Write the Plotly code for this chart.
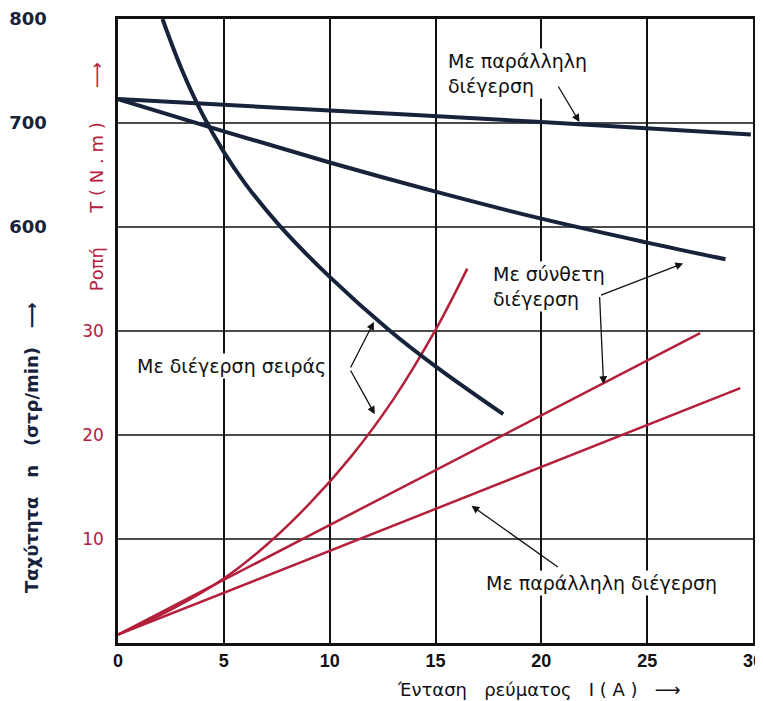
import plotly.graph_objects as go

BLUE = "#17223b"
RED = "#b3203c"
FONT = "DejaVu Sans"

# speed curves, n (rpm) vs current I (A)
i_speed_series = [2.1, 3.0, 4.0, 5.0, 6.0, 7.6, 10.0, 12.8, 15.0, 18.2]
n_series = [800, 752, 708, 672, 642, 602, 552, 501, 466, 420]
i_speed_compound = [0, 5, 10, 15, 20, 25, 28.7]
n_compound = [723, 692, 662, 634, 608, 585, 569]
i_speed_shunt = [0, 10, 20, 29.9]
n_shunt = [723, 712, 701, 689]

# torque curves, T (N.m) vs current I (A)
i_torque_series = [0, 2.5, 5, 7, 9, 11, 13, 15, 16.5]
t_series = [0.8, 3.2, 6.2, 9.4, 13.3, 17.9, 23.4, 30.1, 36.0]
i_torque_compound = [0, 27.5]
t_compound = [0.8, 29.8]
i_torque_shunt = [0, 29.4]
t_shunt = [0.8, 24.5]

x_ticks = [0, 5, 10, 15, 20, 25, 30]
torque_ticks = [10, 20, 30]
speed_ticks = [600, 700, 800]

fig = go.Figure()

for xs, ys in [(i_torque_series, t_series), (i_torque_compound, t_compound),
               (i_torque_shunt, t_shunt)]:
    fig.add_trace(go.Scatter(x=xs, y=ys, mode="lines", yaxis="y",
                             line=dict(color=RED, width=2.5, shape="spline")))

for xs, ys in [(i_speed_series, n_series), (i_speed_compound, n_compound),
               (i_speed_shunt, n_shunt)]:
    fig.add_trace(go.Scatter(x=xs, y=ys, mode="lines", yaxis="y2",
                             line=dict(color=BLUE, width=4, shape="spline")))

# text labels (data coords in current / torque units)
labels = [
    ("Με παράλληλη<br>διέγερση", 15.5, 54.8),
    ("Με σύνθετη<br>διέγερση", 17.6, 34.3),
    ("Με διέγερση σειράς", 0.8, 26.6),
    ("Με παράλληλη διέγερση", 17.3, 5.8),
]
for text, x, y in labels:
    fig.add_annotation(text=text, x=x, y=y, xref="x", yref="y", showarrow=False,
                       xanchor="left", align="left", bgcolor="white",
                       font=dict(family=FONT, size=19, color="#111"))

# pointer arrows: (head x, head y, tail x, tail y)
arrows = [
    (21.8, 50.1, 20.76, 53.65),
    (26.7, 36.5, 22.75, 33.4),
    (22.94, 24.9, 22.75, 33.4),
    (12.09, 30.87, 10.95, 26.35),
    (12.13, 22.0, 10.95, 26.35),
    (16.7, 13.2, 20.85, 7.2),
]
for hx, hy, tx, ty in arrows:
    fig.add_annotation(x=hx, y=hy, ax=tx, ay=ty, xref="x", yref="y",
                       axref="x", ayref="y", text="", showarrow=True,
                       arrowhead=2, arrowsize=1.2, arrowwidth=1.3,
                       arrowcolor="#111")

# axis titles
fig.add_annotation(text="Ταχύτητα   n   (στρ/min)   ⟶", x=0.031, y=0.3125,
                   xref="paper", yref="paper", textangle=-90, showarrow=False,
                   xanchor="center", yanchor="middle",
                   font=dict(family=FONT, size=18, color=BLUE, weight="bold"))
fig.add_annotation(text="Ροπή      T ( N . m )      ⟶", x=0.118, y=0.748,
                   xref="paper", yref="paper", textangle=-90, showarrow=False,
                   xanchor="center", yanchor="middle",
                   font=dict(family=FONT, size=18, color=RED))
fig.add_annotation(text="Ένταση   ρεύματος   I ( A )   ⟶", x=0.712, y=-0.075,
                   xref="paper", yref="paper", showarrow=False,
                   xanchor="center", yanchor="middle",
                   font=dict(family=FONT, size=18, color="#111"))

# page is drawn with an offset of about 8px, so margins are shifted
fig.update_layout(
    width=763, height=701,
    margin=dict(l=0, r=18, t=11, b=66),
    paper_bgcolor="white", plot_bgcolor="white",
    showlegend=False,
    xaxis=dict(domain=[0.1477, 1.0], range=[0, 30], tickvals=x_ticks,
               showgrid=True, gridcolor="#111", gridwidth=1.5,
               showline=True, linecolor="#111", linewidth=2.5, mirror=True,
               zeroline=False, ticks="", automargin=False,
               ticklabeloverflow="allow",
               tickfont=dict(family="Liberation Sans", size=18, color="#111",
                             weight="bold")),
    yaxis=dict(range=[0, 60], tickvals=torque_ticks,
               showgrid=False, showline=True, linecolor="#111", linewidth=2.5,
               mirror=True, zeroline=False, ticks="", ticklabelstandoff=8,
               automargin=False,
               tickfont=dict(family=FONT, size=17, color=RED)),
    yaxis2=dict(range=[200, 800], tickvals=speed_ticks, overlaying="y",
                anchor="free", position=0.052, side="left",
                showgrid=False, showline=False, zeroline=False, ticks="",
                automargin=False, ticklabeloverflow="allow",
                tickfont=dict(family=FONT, size=18, color=BLUE, weight="bold")),
)

# horizontal grid lines at every 10 N.m
for t in [10, 20, 30, 40, 50]:
    fig.add_hline(y=t, line=dict(color="#111", width=1.5), layer="below")

fig.write_html("out.html")
